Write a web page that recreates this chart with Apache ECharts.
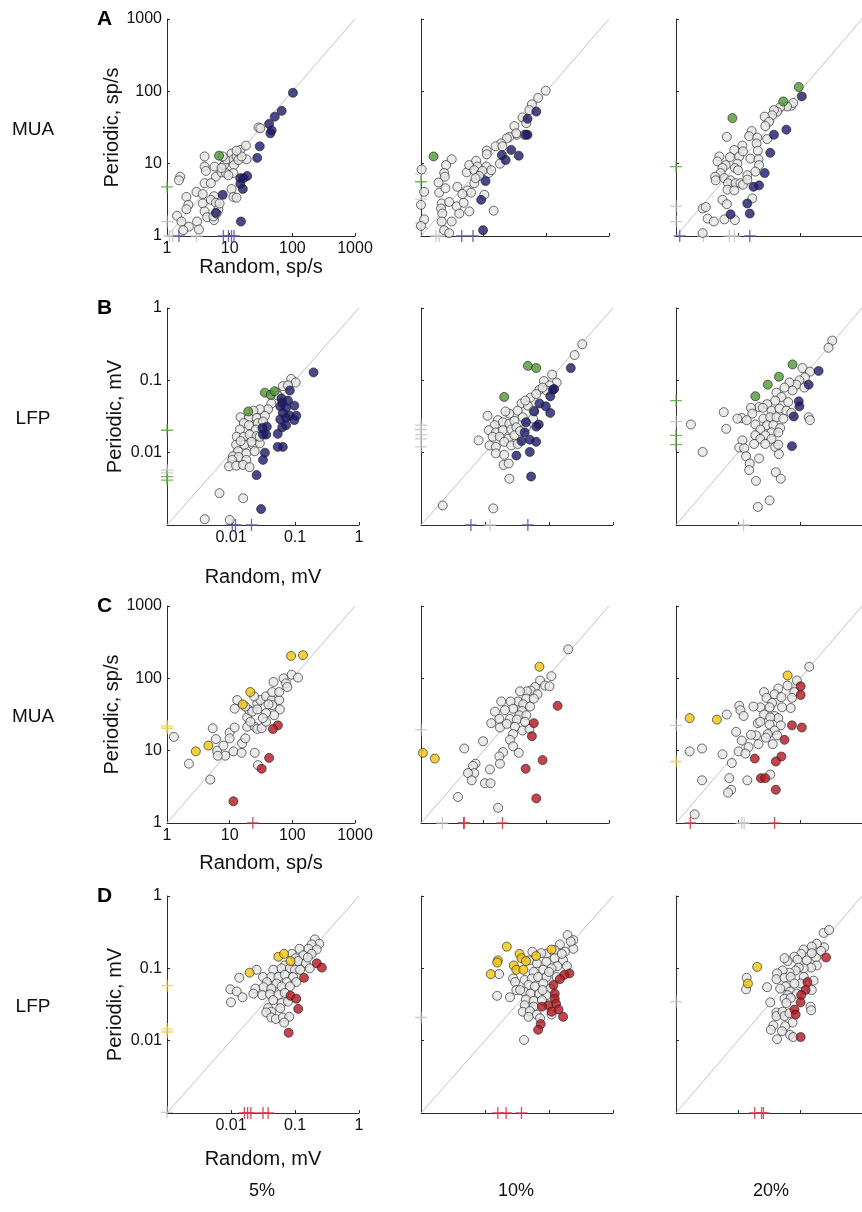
<!DOCTYPE html>
<html>
<head>
<meta charset="utf-8">
<script src="https://cdn.jsdelivr.net/npm/echarts@6/dist/echarts.min.js"></script>
<style>
html, body { margin: 0; background: #fff; }
#container { width: 862px; height: 1212px; }
</style>
</head>
<body>
<div id="container"></div>
<script>
// all point values are log10 of the value (sp/s for MUA, mV for LFP): [random, periodic]
// crosses on the axes: [colour, log10 value]

// --- A: MUA, 5% / 10% / 20%
var A5_gray = [[.21,.82],[.19,.77],[.60,1.10],[.60,.96],[.62,.90],[.60,.73],[.47,.61],[.31,.54],[.34,.43],[.31,.37],[.16,.28],[.23,.20],[.35,.13],[.48,.20],[.51,.09],[.26,.08],[.57,.58],[.57,.45],[.60,.34],[.64,.26],[.75,.22],[.74,.27],[.75,.55],[.70,.50],[.78,.46],[.82,.37],[.79,.31],[.76,.96],[.78,.82],[.87,.88],[.91,.98],[.95,1.06],[.89,1.10],[1.03,1.14],[1.06,1.06],[1.07,.98],[1.11,1.10],[1.17,1.19],[1.26,1.25],[1.27,1.06],[1.14,1.05],[1.06,.87],[1.03,.65],[1.06,.54],[1.11,.53],[.94,.87],[.87,.94],[1.46,1.50],[1.49,1.49],[.84,.45],[.98,.84],[1.19,1.10],[1.11,1.18],[.70,.73]];
var A5_green = [[.83,1.11]];
var A5_blue = [[2.01,1.98],[1.83,1.73],[1.72,1.65],[1.63,1.55],[1.67,1.46],[1.65,1.42],[1.48,1.24],[1.44,1.08],[1.28,.83],[1.22,.80],[1.17,.80],[1.17,.72],[1.21,.65],[.89,.57],[.78,.32],[1.18,.20]];
var A5_xCross = [['gray',.04],['gray',.09],['gray',.47],['blue',.19],['blue',.90],['blue',.98],['blue',1.03],['blue',1.07]];
var A5_yCross = [['green',.68],['gray',.20]];

var A10_gray = [[1.99,2.01],[1.87,1.91],[1.77,1.82],[1.73,1.74],[1.62,1.64],[1.49,1.52],[1.53,1.40],[1.65,1.40],[1.41,1.37],[1.37,1.35],[1.28,1.28],[1.19,1.24],[1.05,1.18],[1.05,1.13],[.49,1.06],[.40,.98],[.37,.87],[.38,.82],[.28,.74],[.29,.60],[.39,.66],[.01,.92],[.05,.61],[.00,.43],[.05,.23],[.00,.14],[.33,.45],[.32,.38],[.34,.31],[.33,.20],[.37,.08],[.45,.04],[.49,.20],[.45,.47],[.57,.41],[.61,.31],[.68,.46],[.77,.34],[.58,.68],[.74,.63],[.85,.73],[.80,.60],[.66,.58],[.73,.88],[.77,.98],[.88,1.04],[.90,.96],[.85,.91],[.96,.87],[1.04,.96],[1.08,.87],[1.12,.91],[.98,.90],[.93,.83],[.87,.80],[1.01,.57],[1.16,.35],[1.26,1.00],[1.30,1.24],[1.52,1.42],[1.68,1.56]];
var A10_green = [[.20,1.10]];
var A10_blue = [[1.84,1.72],[1.70,1.62],[1.70,1.40],[1.67,1.40],[1.44,1.19],[1.29,1.12],[1.35,1.05],[1.56,1.11],[1.03,.76],[.96,.50],[.99,.08]];
var A10_xCross = [['gray',.24],['gray',.29],['blue',.65],['blue',.83]];
var A10_yCross = [['gray',.86],['green',.75],['gray',.51],['gray',.18],['gray',.12]];

var A20_gray = [[1.86,1.80],[1.89,1.84],[1.79,1.79],[1.68,1.78],[1.63,1.72],[1.58,1.74],[1.55,1.67],[1.43,1.65],[1.50,1.58],[1.44,1.52],[1.22,1.45],[1.18,1.38],[1.31,1.36],[1.47,1.34],[.82,1.37],[1.07,1.25],[.94,1.19],[1.30,1.28],[1.32,1.18],[1.20,1.07],[1.33,1.06],[1.34,.98],[.70,1.10],[.67,1.03],[.87,1.09],[1.02,1.10],[.99,1.00],[.80,.98],[.75,.94],[.95,.94],[.72,.87],[.63,.82],[.64,.77],[.78,.80],[.88,.77],[.84,.73],[.96,.73],[1.04,.73],[1.15,.84],[1.28,.89],[1.08,.71],[.83,.64],[.94,.63],[1.23,.52],[.75,.50],[.82,.44],[.43,.38],[.48,.40],[.51,.24],[.61,.20],[.78,.23],[.95,.22],[.43,.04],[1.08,1.17],[1.00,.91],[1.15,.78]];
var A20_green = [[1.98,2.06],[1.73,1.86],[.91,1.63]];
var A20_blue = [[2.03,1.93],[1.78,1.47],[1.58,1.40],[1.52,1.15],[1.43,.87],[1.34,.70],[1.25,.68],[1.15,.45],[1.19,.31],[.88,.30]];
var A20_xCross = [['blue',.06],['gray',.44],['gray',.86],['gray',.94],['blue',1.19]];
var A20_yCross = [['green',.96],['gray',.41],['gray',.20]];

// --- B: LFP, 5% / 10% / 20%
var B5_gray = [[-1.06,-.98],[-.99,-1.03],[-1.19,-1.08],[-1.11,-1.07],[-1.29,-1.17],[-1.27,-1.21],[-1.37,-1.32],[-1.42,-1.40],[-1.55,-1.40],[-1.65,-1.42],[-1.85,-1.51],[-1.72,-1.52],[-1.60,-1.52],[-1.47,-1.49],[-1.80,-1.59],[-1.72,-1.62],[-1.58,-1.59],[-1.61,-1.68],[-1.86,-1.68],[-1.91,-1.78],[-1.80,-1.78],[-1.71,-1.75],[-1.60,-1.77],[-1.92,-1.89],[-1.79,-1.89],[-1.66,-1.89],[-1.55,-1.87],[-1.89,-1.98],[-1.76,-2.01],[-1.63,-1.98],[-1.97,-2.05],[-1.88,-2.06],[-1.76,-2.10],[-1.98,-2.10],[-2.03,-2.19],[-1.92,-2.18],[-1.81,-2.17],[-1.71,-2.20],[-2.18,-2.56],[-1.81,-2.63],[-2.41,-2.92],[-2.02,-2.93],[-1.55,-1.78],[-1.50,-1.57],[-1.68,-1.85],[-1.85,-1.84]];
var B5_green = [[-1.47,-1.17],[-1.38,-1.20],[-1.32,-1.15],[-1.73,-1.43]];
var B5_blue = [[-.71,-.89],[-1.08,-1.14],[-1.21,-1.25],[-1.20,-1.31],[-1.11,-1.28],[-1.23,-1.36],[-1.14,-1.38],[-1.01,-1.35],[-1.19,-1.45],[-1.08,-1.49],[-.98,-1.49],[-1.23,-1.54],[-1.14,-1.52],[-1.01,-1.55],[-1.20,-1.65],[-1.14,-1.62],[-1.27,-1.74],[-1.44,-1.64],[-1.51,-1.66],[-1.45,-1.75],[-1.50,-1.75],[-1.19,-1.92],[-1.27,-1.92],[-1.47,-2.00],[-1.50,-2.10],[-1.60,-2.31],[-1.53,-2.78]];
var B5_xCross = [['blue',-1.98],['blue',-1.93],['blue',-1.68]];
var B5_yCross = [['green',-1.69],['gray',-2.24],['gray',-2.28],['green',-2.33],['green',-2.38]];

var B10_gray = [[-.48,-.50],[-.60,-.65],[-.95,-.92],[-1.08,-1.01],[-.88,-1.03],[-.99,-1.07],[-1.15,-1.13],[-1.04,-1.14],[-1.29,-1.24],[-1.20,-1.19],[-1.43,-1.32],[-1.33,-1.35],[-1.49,-1.42],[-1.62,-1.46],[-1.68,-1.43],[-1.96,-1.49],[-1.80,-1.55],[-1.72,-1.58],[-1.85,-1.62],[-1.62,-1.60],[-1.54,-1.56],[-1.41,-1.51],[-1.25,-1.53],[-1.94,-1.69],[-1.83,-1.72],[-1.72,-1.69],[-1.59,-1.68],[-1.51,-1.65],[-1.88,-1.78],[-1.77,-1.78],[-1.64,-1.81],[-1.54,-1.76],[-2.10,-1.83],[-1.93,-1.90],[-1.83,-1.92],[-1.70,-1.85],[-1.59,-1.90],[-1.49,-1.88],[-1.83,-2.01],[-1.70,-2.03],[-1.71,-2.17],[-1.63,-2.15],[-1.62,-2.36],[-1.36,-1.65],[-1.24,-1.42],[-1.37,-1.28],[-1.10,-1.10],[-1.87,-2.77],[-2.66,-2.73],[-1.45,-1.70]];
var B10_green = [[-1.33,-.80],[-1.20,-.83],[-1.70,-1.23]];
var B10_blue = [[-.66,-.83],[-.94,-1.13],[-.98,-1.22],[-1.15,-1.32],[-1.05,-1.36],[-.98,-1.45],[-1.23,-1.43],[-1.36,-1.58],[-1.16,-1.61],[-1.20,-1.64],[-1.38,-1.72],[-1.30,-1.82],[-1.20,-1.85],[-1.43,-1.84],[-1.51,-2.04],[-1.30,-1.99],[-1.28,-2.33],[-.92,-1.12]];
var B10_xCross = [['blue',-2.22],['gray',-1.92],['blue',-1.33]];
var B10_yCross = [['gray',-1.62],['gray',-1.68],['gray',-1.75],['gray',-1.81],['gray',-1.92]];

var B20_gray = [[-.48,-.45],[-.54,-.55],[-.96,-.83],[-.84,-.88],[-.92,-.96],[-1.01,-1.00],[-1.06,-1.06],[-1.17,-1.03],[-.93,-1.10],[-1.12,-1.14],[-1.25,-1.10],[-1.38,-1.17],[-1.30,-1.23],[-1.19,-1.30],[-1.40,-1.28],[-1.53,-1.33],[-1.66,-1.37],[-1.79,-1.38],[-1.60,-1.38],[-1.46,-1.42],[-1.33,-1.39],[-1.22,-1.42],[-1.14,-1.45],[-1.77,-1.46],[-1.94,-1.52],[-2.01,-1.53],[-1.86,-1.55],[-1.72,-1.61],[-1.59,-1.53],[-1.48,-1.51],[-1.38,-1.51],[-1.27,-1.53],[-1.53,-1.62],[-1.43,-1.62],[-1.32,-1.66],[-1.64,-1.68],[-1.46,-1.72],[-1.35,-1.72],[-1.72,-1.76],[-1.56,-1.76],[-1.64,-1.81],[-1.46,-1.81],[-1.74,-1.88],[-1.56,-1.88],[-1.40,-1.92],[-1.35,-1.89],[-1.93,-1.83],[-1.98,-1.93],[-1.90,-1.94],[-1.34,-2.02],[-1.87,-2.05],[-1.66,-2.08],[-1.81,-2.15],[-1.82,-2.24],[-1.39,-2.27],[-1.31,-2.36],[-1.71,-2.39],[-1.49,-2.66],[-1.68,-2.75],[-2.23,-1.44],[-2.19,-1.67],[-2.76,-1.61],[-2.57,-1.99],[-.86,-1.51],[-.84,-1.55]];
var B20_green = [[-1.12,-.78],[-1.34,-.95],[-1.52,-1.06],[-1.72,-1.22]];
var B20_blue = [[-.70,-.87],[-.86,-1.06],[-1.02,-1.29],[-1.01,-1.36],[-1.10,-1.50],[-1.13,-1.91]];
var B20_xCross = [['gray',-1.91]];
var B20_yCross = [['green',-1.28],['gray',-1.57],['green',-1.76],['green',-1.89]];

// --- C: MUA, 5% / 10% / 20%
var C5_gray = [[.11,1.19],[.35,.82],[.69,.60],[.73,1.31],[.78,1.16],[.80,1.00],[.90,1.07],[.93,.93],[.81,.93],[1.00,1.25],[1.00,1.17],[1.08,1.32],[1.06,.99],[1.19,.97],[1.20,1.10],[1.25,1.17],[1.28,1.33],[1.40,1.33],[1.44,1.30],[1.51,1.31],[1.40,.97],[1.45,.80],[1.28,1.46],[1.31,1.56],[1.44,1.65],[1.49,1.70],[1.58,1.75],[1.67,1.70],[1.68,1.81],[1.70,1.95],[1.79,1.70],[1.80,1.57],[1.71,1.49],[1.68,1.63],[1.58,1.52],[1.58,1.40],[1.12,1.70],[1.08,1.58],[1.25,1.61],[1.36,1.54],[1.44,1.57],[1.86,2.00],[1.90,1.93],[1.92,1.88],[1.99,2.05],[2.09,2.01],[1.79,1.81],[1.39,1.75],[1.53,1.45],[1.33,1.40],[1.62,1.64]];
var C5_yellow = [[1.98,2.31],[2.17,2.32],[1.33,1.81],[1.21,1.64],[.66,1.07],[.46,.99]];
var C5_red = [[1.77,1.35],[1.69,1.30],[1.63,.90],[1.51,.75],[1.06,.30]];
var C5_xCross = [['red',1.37]];
var C5_yCross = [['yellow',1.34],['yellow',1.31]];

var C10_gray = [[2.35,2.40],[2.08,2.03],[1.90,1.97],[1.98,1.90],[2.05,1.89],[1.82,1.88],[1.75,1.83],[1.86,1.78],[1.69,1.82],[1.58,1.82],[1.55,1.68],[1.43,1.68],[1.28,1.68],[1.68,1.72],[1.63,1.64],[1.74,1.61],[1.47,1.58],[1.61,1.55],[1.18,1.54],[1.57,1.49],[1.68,1.49],[1.25,1.44],[1.42,1.44],[1.53,1.43],[1.12,1.38],[1.26,1.32],[1.37,1.37],[1.50,1.33],[1.62,1.28],[1.73,1.30],[1.47,1.23],[1.42,1.15],[1.47,1.06],[1.56,.97],[.99,1.13],[.69,1.03],[1.31,.98],[1.25,.92],[1.26,.82],[1.10,.74],[.87,.82],[.83,.79],[.85,.69],[.75,.69],[.81,.59],[1.02,.55],[1.11,.55],[.59,.36],[1.23,.21],[1.34,1.56],[1.80,1.72],[1.66,1.40]];
var C10_yellow = [[1.89,2.16],[.03,.97],[.22,.89]];
var C10_red = [[2.18,1.62],[1.80,1.38],[1.77,1.20],[1.94,.87],[1.67,.75],[1.84,.34]];
var C10_xCross = [['gray',.34],['red',.68],['red',.69],['red',1.30]];
var C10_yCross = [['gray',1.29]];

var C20_gray = [[2.15,2.16],[1.95,1.97],[1.80,1.90],[1.91,1.81],[1.65,1.86],[1.42,1.81],[1.46,1.73],[1.59,1.78],[1.70,1.74],[1.87,1.73],[1.85,1.59],[1.71,1.60],[1.55,1.66],[1.51,1.60],[1.36,1.60],[1.25,1.61],[1.02,1.62],[1.04,1.56],[1.09,1.48],[.82,1.50],[1.42,1.50],[1.59,1.48],[1.65,1.45],[1.52,1.46],[1.32,1.38],[1.36,1.40],[1.51,1.36],[1.69,1.35],[1.59,1.28],[1.48,1.23],[1.45,1.18],[1.63,1.21],[1.29,1.21],[1.21,1.22],[.97,1.26],[1.06,1.14],[1.17,1.05],[1.33,1.09],[1.56,1.09],[1.01,.99],[1.12,.96],[.90,.83],[.75,.95],[.42,1.03],[.22,.99],[.42,.59],[.86,.62],[1.15,.59],[.89,.46],[.84,.42],[1.52,.67],[.30,.12]];
var C20_yellow = [[1.80,2.04],[.22,1.45],[.66,1.43]];
var C20_red = [[2.01,1.89],[2.01,1.77],[1.87,1.35],[2.03,1.32],[1.75,1.15],[1.70,.92],[1.61,.85],[1.27,.89],[1.37,.62],[1.44,.62],[1.61,.46]];
var C20_xCross = [['red',.23],['gray',1.06],['gray',1.10],['red',1.59]];
var C20_yCross = [['gray',1.35],['yellow',.85]];

// --- D: LFP, 5% / 10% / 20%
var D5_gray = [[-.69,-.60],[-.62,-.66],[-.74,-.67],[-.79,-.73],[-.66,-.74],[-.93,-.73],[-1.05,-.80],[-.87,-.82],[-.74,-.80],[-.99,-.86],[-.95,-.90],[-.83,-.93],[-.77,-1.00],[-1.16,-.96],[-1.34,-1.02],[-1.21,-1.00],[-1.08,-1.00],[-1.00,-1.02],[-1.60,-1.02],[-1.50,-1.12],[-1.37,-1.12],[-1.26,-1.12],[-1.16,-1.09],[-1.03,-1.12],[-1.87,-1.13],[-1.44,-1.19],[-1.29,-1.21],[-1.13,-1.19],[-.98,-1.19],[-1.62,-1.28],[-1.49,-1.26],[-1.37,-1.28],[-1.21,-1.25],[-1.08,-1.25],[-2.01,-1.29],[-1.91,-1.32],[-1.82,-1.40],[-1.65,-1.35],[-1.51,-1.37],[-1.39,-1.36],[-1.26,-1.37],[-1.16,-1.34],[-2.00,-1.47],[-1.34,-1.44],[-1.21,-1.48],[-1.11,-1.46],[-1.42,-1.55],[-1.37,-1.60],[-1.23,-1.55],[-1.45,-1.61],[-1.37,-1.68],[-1.30,-1.70],[-1.19,-1.68],[-1.09,-1.67],[-1.17,-1.75],[-.92,-1.02],[-.80,-.85]];
var D5_yellow = [[-1.26,-.84],[-1.17,-.80],[-1.07,-.90],[-1.71,-1.06]];
var D5_red = [[-.66,-.93],[-.58,-.99],[-.86,-1.13],[-1.07,-1.38],[-.98,-1.42],[-.95,-1.56],[-1.10,-1.89]];
var D5_xCross = [['red',-1.79],['red',-1.74],['red',-1.69],['red',-1.50],['red',-1.42]];
var D5_yCross = [['yellow',-1.24],['yellow',-1.84],['yellow',-1.88],['gray',-2.99]];

var D10_gray = [[-.71,-.54],[-.62,-.61],[-.62,-.73],[-.83,-.67],[-.91,-.75],[-1.04,-.80],[-.75,-.77],[-1.26,-.77],[-1.31,-.89],[-1.19,-.93],[-1.04,-.91],[-.91,-.86],[-.78,-.89],[-.72,-.97],[-.87,-.97],[-.96,-1.00],[-1.09,-1.02],[-1.24,-1.05],[-1.78,-1.08],[-1.56,-1.14],[-1.53,-1.19],[-1.38,-1.16],[-1.27,-1.14],[-1.17,-1.12],[-1.04,-1.12],[-.88,-1.12],[-1.32,-1.23],[-1.22,-1.25],[-1.09,-1.21],[-.98,-1.28],[-1.51,-1.30],[-1.39,-1.32],[-1.29,-1.35],[-1.15,-1.35],[-1.04,-1.37],[-1.81,-1.38],[-1.61,-1.40],[-1.36,-1.43],[-1.24,-1.45],[-1.11,-1.44],[-1.38,-1.51],[-1.24,-1.53],[-1.41,-1.60],[-1.30,-1.59],[-1.19,-1.64],[-1.32,-1.67],[-.96,-1.64],[-1.14,-1.69],[-1.39,-1.99],[-1.45,-1.30],[-1.12,-.79],[-.66,-.63],[-.80,-.80],[-1.00,-1.05],[-1.10,-1.30]];
var D10_yellow = [[-1.66,-.70],[-1.80,-.89],[-1.81,-.92],[-1.46,-.80],[-1.43,-.86],[-1.36,-.90],[-1.55,-.96],[-1.51,-1.02],[-1.40,-1.02],[-1.91,-1.08],[-1.20,-.83],[-.96,-.74]];
var D10_red = [[-.68,-1.07],[-.76,-1.09],[-.83,-1.15],[-.93,-1.23],[-.91,-1.35],[-.91,-1.42],[-.89,-1.49],[-.85,-1.57],[-1.01,-1.51],[-1.11,-1.53],[-.96,-1.60],[-.78,-1.67],[-1.13,-1.77],[-1.17,-1.85]];
var D10_xCross = [['red',-1.80],['red',-1.67],['red',-1.43]];
var D10_yCross = [['gray',-1.68]];

var D20_gray = [[-.62,-.51],[-.53,-.47],[-.61,-.71],[-.73,-.66],[-.81,-.70],[-.94,-.74],[-.98,-.80],[-1.09,-.84],[-1.20,-.90],[-1.25,-.86],[-1.04,-.88],[-.89,-.89],[-.74,-.85],[-.73,-.96],[-.82,-.99],[-.94,-1.00],[-1.02,-.99],[-1.07,-1.03],[-1.17,-1.06],[-1.28,-1.03],[-1.37,-1.07],[-1.38,-1.15],[-1.25,-1.13],[-1.15,-1.12],[-.94,-1.12],[-.78,-1.17],[-.81,-1.30],[-.99,-1.21],[-1.09,-1.21],[-1.23,-1.25],[-1.32,-1.28],[-1.53,-1.26],[-1.86,-1.13],[-1.87,-1.29],[-1.16,-1.32],[-1.05,-1.35],[-1.20,-1.37],[-1.25,-1.42],[-1.15,-1.41],[-1.48,-1.47],[-1.22,-1.48],[-.83,-1.53],[-.82,-1.58],[-1.38,-1.61],[-1.38,-1.66],[-1.28,-1.60],[-1.25,-1.66],[-1.17,-1.62],[-1.12,-1.75],[-1.24,-1.80],[-1.43,-1.79],[-1.47,-1.85],[-1.29,-1.87],[-1.37,-1.98],[-1.16,-1.92],[-1.11,-1.95],[-.66,-.76],[-.81,-.79]];
var D20_yellow = [[-1.69,-.98],[-1.84,-1.21]];
var D20_red = [[-.58,-.85],[-.88,-1.19],[-.91,-1.30],[-.98,-1.37],[-.99,-1.47],[-1.09,-1.57],[-1.07,-1.64],[-.99,-1.95]];
var D20_xCross = [['red',-1.73],['red',-1.62],['red',-1.59]];
var D20_yCross = [['gray',-1.46]];

var percentLabels = ['5%', '10%', '20%'];

var DOT = { gray: '#e6e6e6', blue: '#1b1a6d', green: '#4f9934', yellow: '#f1c40f', red: '#b3161f' };
var CROSS = { gray: '#c6c6c6', blue: '#5a58a8', green: '#5fae45', yellow: '#f0cf52', red: '#d2394a' };
var FONT = '"Liberation Sans", Arial, sans-serif';

var ROWS = [
    { top: 19, lo: 1, hi: 1000, width: 188, unit: 'sp/s', xGap: 20, name: 'MUA', letter: 'A' },
    { top: 308, lo: 0.001, hi: 1, width: 192, unit: 'mV', xGap: 42, name: 'LFP', letter: 'B' },
    { top: 606, lo: 1, hi: 1000, width: 188, unit: 'sp/s', xGap: 30, name: 'MUA', letter: 'C' },
    { top: 896, lo: 0.001, hi: 1, width: 192, unit: 'mV', xGap: 36, name: 'LFP', letter: 'D' }
];
var COL_LEFT = [167, 421, 676];
var GRID_H = 217;

var panels = [
    { gray: A5_gray, marked: [['green', A5_green], ['blue', A5_blue]], xCross: A5_xCross, yCross: A5_yCross },
    { gray: A10_gray, marked: [['green', A10_green], ['blue', A10_blue]], xCross: A10_xCross, yCross: A10_yCross },
    { gray: A20_gray, marked: [['green', A20_green], ['blue', A20_blue]], xCross: A20_xCross, yCross: A20_yCross },
    { gray: B5_gray, marked: [['green', B5_green], ['blue', B5_blue]], xCross: B5_xCross, yCross: B5_yCross },
    { gray: B10_gray, marked: [['green', B10_green], ['blue', B10_blue]], xCross: B10_xCross, yCross: B10_yCross },
    { gray: B20_gray, marked: [['green', B20_green], ['blue', B20_blue]], xCross: B20_xCross, yCross: B20_yCross },
    { gray: C5_gray, marked: [['yellow', C5_yellow], ['red', C5_red]], xCross: C5_xCross, yCross: C5_yCross },
    { gray: C10_gray, marked: [['yellow', C10_yellow], ['red', C10_red]], xCross: C10_xCross, yCross: C10_yCross },
    { gray: C20_gray, marked: [['yellow', C20_yellow], ['red', C20_red]], xCross: C20_xCross, yCross: C20_yCross },
    { gray: D5_gray, marked: [['yellow', D5_yellow], ['red', D5_red]], xCross: D5_xCross, yCross: D5_yCross },
    { gray: D10_gray, marked: [['yellow', D10_yellow], ['red', D10_red]], xCross: D10_xCross, yCross: D10_yCross },
    { gray: D20_gray, marked: [['yellow', D20_yellow], ['red', D20_red]], xCross: D20_xCross, yCross: D20_yCross }
];

var CROSS_PATH = 'path://M0,5.35H12V6.65H0Z M5.35,0H6.65V12H5.35Z';

function toLinear(p) {
    return [Math.pow(10, p[0]), Math.pow(10, p[1])];
}

function tickLabel(v) {
    if (v < 0.0015) return '';
    return String(parseFloat(v.toPrecision(3)));
}

function makeAxis(row, col, idx, isX) {
    var axis = {
        type: 'log',
        logBase: 10,
        gridIndex: idx,
        min: row.lo,
        max: row.hi,
        splitLine: { show: false },
        axisLine: { show: true, lineStyle: { color: '#2a2a2a', width: 1 } },
        axisTick: { show: true, inside: true, length: 3, lineStyle: { color: '#2a2a2a' } },
        axisLabel: {
            show: col === 0,
            formatter: tickLabel,
            showMinLabel: true,
            showMaxLabel: true,
            fontSize: 16,
            fontFamily: FONT,
            color: '#111',
            margin: 5
        }
    };
    if (col === 0) {
        axis.name = (isX ? 'Random, ' : 'Periodic, ') + row.unit;
        axis.nameLocation = 'middle';
        axis.nameGap = isX ? row.xGap : 42;
        axis.nameTextStyle = { fontSize: 20, fontFamily: FONT, color: '#111' };
    }
    return axis;
}

var grids = [], xAxes = [], yAxes = [], series = [];

panels.forEach(function (p, idx) {
    var r = Math.floor(idx / 3), c = idx % 3;
    var row = ROWS[r];

    grids.push({ left: COL_LEFT[c], top: row.top, width: row.width, height: GRID_H, containLabel: false });
    xAxes.push(makeAxis(row, c, idx, true));
    yAxes.push(makeAxis(row, c, idx, false));

    // identity line
    series.push({
        type: 'line', xAxisIndex: idx, yAxisIndex: idx, silent: true, symbol: 'none', z: 1,
        lineStyle: { color: '#c2c2c2', width: 1 },
        data: [[row.lo, row.lo], [row.hi, row.hi]]
    });

    // crosses sitting on the axes
    var crossData = [];
    p.xCross.forEach(function (cr) {
        crossData.push({ value: [Math.pow(10, cr[1]), row.lo], itemStyle: { color: CROSS[cr[0]] } });
    });
    p.yCross.forEach(function (cr) {
        crossData.push({ value: [row.lo, Math.pow(10, cr[1])], itemStyle: { color: CROSS[cr[0]] } });
    });
    series.push({
        type: 'scatter', xAxisIndex: idx, yAxisIndex: idx, silent: true, clip: false, z: 3,
        symbol: CROSS_PATH, symbolSize: 12,
        itemStyle: { opacity: 0.9 },
        data: crossData
    });

    series.push({
        type: 'scatter', xAxisIndex: idx, yAxisIndex: idx, silent: true, clip: false, z: 4,
        symbolSize: 9,
        itemStyle: { color: DOT.gray, borderColor: '#1a1a1a', borderWidth: 0.8 },
        data: p.gray.map(toLinear)
    });

    p.marked.forEach(function (m) {
        series.push({
            type: 'scatter', xAxisIndex: idx, yAxisIndex: idx, silent: true, clip: false, z: 5,
            symbolSize: 9,
            itemStyle: { color: DOT[m[0]], borderColor: '#1a1a1a', borderWidth: 0.8 },
            data: m[1].map(toLinear)
        });
    });
});

var graphics = [];
ROWS.forEach(function (row) {
    graphics.push({
        type: 'text', left: 97, top: row.top - 10,
        style: { text: row.letter, font: 'bold 21px ' + FONT, fill: '#000' }
    });
    graphics.push({
        type: 'text', x: 33, y: row.top + 111,
        style: { text: row.name, font: '19px ' + FONT, fill: '#111', align: 'center', verticalAlign: 'middle' }
    });
});
percentLabels.forEach(function (t, i) {
    graphics.push({
        type: 'text', x: COL_LEFT[i] + 95, y: 1191,
        style: { text: t, font: '18px ' + FONT, fill: '#111', align: 'center', verticalAlign: 'middle' }
    });
});

var myChart = echarts.init(document.getElementById('container'), null, { renderer: 'canvas' });
myChart.setOption({
    animation: false,
    backgroundColor: '#fff',
    grid: grids,
    xAxis: xAxes,
    yAxis: yAxes,
    series: series,
    graphic: graphics
});
</script>
</body>
</html>
